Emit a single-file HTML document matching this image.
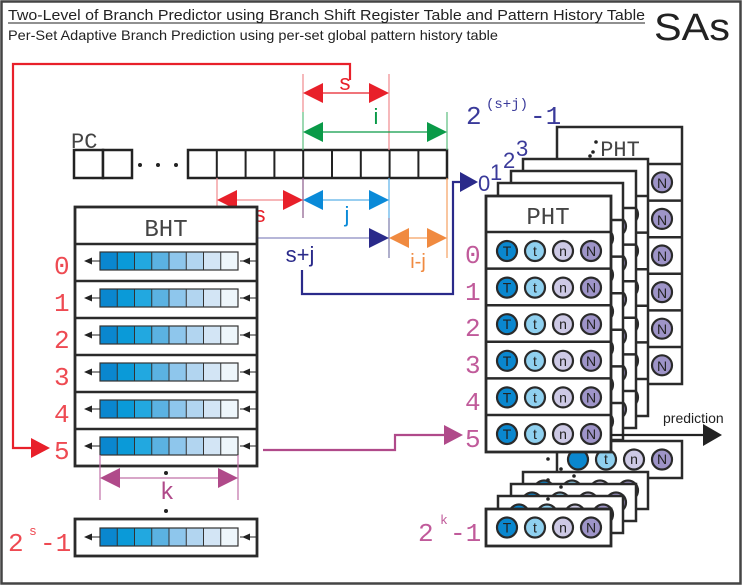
<!DOCTYPE html>
<html><head><meta charset="utf-8"><style>
html,body{margin:0;padding:0;background:#fff}
svg{display:block}
.m{font-family:"Liberation Mono",monospace}
.s{font-family:"Liberation Sans",sans-serif}
</style></head><body>
<svg width="743" height="586" viewBox="0 0 743 586" xmlns="http://www.w3.org/2000/svg">
<defs>
<g id="reg">
<rect x="100" y="0" width="17.25" height="18" fill="#0a87cf"/>
<rect x="117.25" y="0" width="17.25" height="18" fill="#0a9ad8"/>
<rect x="134.5" y="0" width="17.25" height="18" fill="#22a8e0"/>
<rect x="151.75" y="0" width="17.25" height="18" fill="#5bb2e2"/>
<rect x="169" y="0" width="17.25" height="18" fill="#8ec6ec"/>
<rect x="186.25" y="0" width="17.25" height="18" fill="#b2d5f0"/>
<rect x="203.5" y="0" width="17.25" height="18" fill="#d3e5f5"/>
<rect x="220.75" y="0" width="17.25" height="18" fill="#eef6fb"/>
<path d="M117.25 0V18M134.5 0V18M151.75 0V18M169 0V18M186.25 0V18M203.5 0V18M220.75 0V18" stroke="#333" stroke-width="1"/>
<rect x="100" y="0" width="138" height="18" fill="none" stroke="#333" stroke-width="1.2"/>
<path d="M92 9H100M240 9H256" stroke="#222" stroke-width="1"/>
<path d="M84 9L92 5.5V12.5Z M242 9L250 5.5V12.5Z" fill="#222"/>
</g>
<g id="cr" stroke="#2a2a2a" stroke-width="2.2">
<circle cx="21" cy="0" r="10" fill="#0a87cf"/>
<circle cx="49" cy="0" r="10" fill="#8fd0ef"/>
<circle cx="77" cy="0" r="10" fill="#cdc9e5"/>
<circle cx="105" cy="0" r="10" fill="#9e94c8"/>
</g>
<g id="ph" stroke="#2a2a2a" stroke-width="2.5" fill="#fff">
<rect x="0" y="0" width="125" height="257"/>
<path d="M0 37H125M0 73.6H125M0 110.2H125M0 146.8H125M0 183.4H125M0 220H125" fill="none"/>
<use href="#cr" y="55.3"/><use href="#cr" y="91.9"/><use href="#cr" y="128.5"/><use href="#cr" y="165.1"/><use href="#cr" y="201.7"/><use href="#cr" y="238.3"/>
</g>
<g id="pr" stroke="#2a2a2a" stroke-width="2.5" fill="#fff">
<rect x="0" y="0" width="125" height="37"/>
<use href="#cr" y="18.5"/>
</g>
</defs>
<rect x="1.5" y="1.5" width="739" height="582" fill="#fff" stroke="#444" stroke-width="2.5"/>
<text x="8" y="20" class="s" font-size="15" textLength="637" lengthAdjust="spacingAndGlyphs" fill="#222">Two-Level of Branch Predictor using Branch Shift Register Table and Pattern History Table</text>
<line x1="8" y1="23" x2="645" y2="23" stroke="#222" stroke-width="1"/>
<text x="8" y="40" class="s" font-size="14" textLength="490" lengthAdjust="spacingAndGlyphs" fill="#222">Per-Set Adaptive Branch Prediction using per-set global pattern history table</text>
<text x="654" y="40" class="s" font-size="38" textLength="76" lengthAdjust="spacingAndGlyphs" fill="#222">SAs</text>

<path d="M350 80V64H13V448H40" fill="none" stroke="#e8202a" stroke-width="2.2"/>
<path d="M50 448L31 438V458Z" fill="#e8202a"/>

<text x="71" y="148" class="m" font-size="22" fill="#444">PC</text>
<g fill="#fff" stroke="#222" stroke-width="2.5">
<rect x="74" y="150" width="29" height="28"/><rect x="103" y="150" width="29" height="28"/>
<rect x="188" y="150" width="259" height="28"/>
</g>
<path d="M216.8 150V178M245.6 150V178M274.4 150V178M303.2 150V178M332 150V178M360.8 150V178M389.6 150V178M418.4 150V178" stroke="#222" stroke-width="2"/>
<circle cx="140" cy="165" r="2" fill="#222"/><circle cx="158" cy="165" r="2" fill="#222"/><circle cx="176" cy="165" r="2" fill="#222"/>

<path d="M303 74V112M389 74V150" stroke="#f08a8e" stroke-width="1.2"/>
<path d="M303 112V150M447 112V150" stroke="#5cbf7e" stroke-width="1.2"/>
<line x1="310" y1="93" x2="382" y2="93" stroke="#e8202a" stroke-width="1.2"/>
<path d="M303 93L323 83V103Z M389 93L369 83V103Z" fill="#e8202a"/>
<text x="345" y="90" class="s" font-size="22" text-anchor="middle" fill="#e8202a">s</text>
<line x1="310" y1="132" x2="440" y2="132" stroke="#0a9a48" stroke-width="1.2"/>
<path d="M303 132L323 122V142Z M447 132L427 122V142Z" fill="#0a9a48"/>
<text x="376" y="124" class="s" font-size="22" text-anchor="middle" fill="#0a9a48">i</text>

<path d="M217 178V220" stroke="#f08a8e" stroke-width="1.2"/>
<path d="M217 220V258" stroke="#5a5aaa" stroke-width="1.2"/>
<path d="M303 178V218" stroke="#8a5a8a" stroke-width="1.2"/>
<path d="M389 178V218" stroke="#5ab0e8" stroke-width="1.2"/>
<path d="M389 218V258" stroke="#7a7aaa" stroke-width="1.2"/>
<path d="M447 178V258" stroke="#f5a060" stroke-width="1.2"/>
<line x1="224" y1="200" x2="296" y2="200" stroke="#f08a8e" stroke-width="1.2"/>
<path d="M217 200L237 190V210Z M303 200L283 190V210Z" fill="#e8202a"/>
<text x="260" y="222" class="s" font-size="22" text-anchor="middle" fill="#e8202a">s</text>
<line x1="310" y1="200" x2="382" y2="200" stroke="#5ab0e8" stroke-width="1.2"/>
<path d="M303 200L323 190V210Z M389 200L369 190V210Z" fill="#0a8ad8"/>
<text x="347" y="222" class="s" font-size="22" text-anchor="middle" fill="#0a8ad8">j</text>
<line x1="224" y1="238" x2="382" y2="238" stroke="#8a8ac0" stroke-width="1.2"/>
<path d="M217 238L237 228V248Z M389 238L369 228V248Z" fill="#2a2a8a"/>
<text x="300" y="262" class="s" font-size="22" text-anchor="middle" fill="#2a2a8a">s+j</text>
<line x1="396" y1="238" x2="440" y2="238" stroke="#f5a060" stroke-width="1.2"/>
<path d="M389 238L409 228V248Z M447 238L427 228V248Z" fill="#f08a40"/>
<text x="418" y="268" class="s" font-size="20" text-anchor="middle" fill="#f08a40">i-j</text>

<path d="M302 270V294H453V182H470" fill="none" stroke="#2a2a8a" stroke-width="2.2"/>
<path d="M478 182L460 172V192Z" fill="#2a2a8a"/>

<g fill="#fff" stroke="#2a2a2a" stroke-width="2.8">
<rect x="75" y="207" width="182" height="259"/>
</g>
<path d="M75 244H257M75 281H257M75 318H257M75 355H257M75 392H257M75 429H257" stroke="#2a2a2a" stroke-width="2.5"/>
<text x="166" y="236" class="m" font-size="24" text-anchor="middle" fill="#444">BHT</text>
<use href="#reg" y="252"/><use href="#reg" y="289"/><use href="#reg" y="326"/><use href="#reg" y="363"/><use href="#reg" y="400"/><use href="#reg" y="437"/>
<g class="m" font-size="26" fill="#ee4a52">
<text x="54" y="274">0</text><text x="54" y="311">1</text><text x="54" y="348">2</text><text x="54" y="385">3</text><text x="54" y="422">4</text><text x="54" y="459">5</text>
<text x="8" y="551">2</text><text x="29" y="535" font-size="13">s</text><text x="40" y="551">-1</text>
</g>
<rect x="75" y="519" width="182" height="37" fill="#fff" stroke="#2a2a2a" stroke-width="2.8"/>
<use href="#reg" y="528"/>
<circle cx="166" cy="473" r="2" fill="#222"/><circle cx="166" cy="511" r="2" fill="#222"/>
<path d="M100 455V500M238 455V500" stroke="#c070a8" stroke-width="1.2"/>
<line x1="107" y1="478" x2="231" y2="478" stroke="#c070a8" stroke-width="1.2"/>
<path d="M100 478L120 468V488Z M238 478L218 468V488Z" fill="#b04a8a"/>
<text x="167" y="499" class="s" font-size="24" text-anchor="middle" fill="#b04a8a">k</text>

<path d="M263 450H395V435H452" fill="none" stroke="#b04a8a" stroke-width="2.2"/>
<path d="M463 435L444 425V445Z" fill="#b04a8a"/>

<text x="466" y="124" class="m" font-size="26" fill="#3a3a9a">2</text>
<text x="486" y="108" class="m" font-size="14" fill="#3a3a9a">(s+j)</text>
<text x="530" y="124" class="m" font-size="26" fill="#3a3a9a">-1</text>
<g class="s" font-size="22" fill="#3a3a9a">
<text x="478" y="191">0</text><text x="490" y="180">1</text><text x="503" y="168">2</text><text x="516" y="156">3</text>
</g>

<use href="#ph" x="557" y="127"/>
<text x="620" y="156" class="m" font-size="22" text-anchor="middle" fill="#444">PHT</text>
<circle cx="596" cy="142" r="1.8" fill="#222"/><circle cx="593" cy="152" r="1.8" fill="#222"/><circle cx="590" cy="156" r="1.8" fill="#222"/>
<g class="s" font-size="14" text-anchor="middle" fill="#222">
<text x="662" y="188">N</text><text x="662" y="225">N</text><text x="662" y="261">N</text><text x="662" y="298">N</text><text x="662" y="334">N</text><text x="662" y="371">N</text>
</g>
<use href="#ph" x="523" y="159"/>
<use href="#ph" x="511" y="171"/>
<use href="#ph" x="498" y="183"/>

<use href="#pr" x="557" y="441"/>
<g class="s" font-size="14" text-anchor="middle" fill="#222">
<text x="634" y="464">n</text><text x="662" y="464">N</text><text x="606" y="464">t</text>
</g>
<use href="#pr" x="523" y="472"/>
<use href="#pr" x="511" y="484"/>
<use href="#pr" x="498" y="496"/>
<circle cx="548" cy="459" r="1.8" fill="#222"/><circle cx="561" cy="469" r="1.8" fill="#222"/><circle cx="574" cy="476" r="1.8" fill="#222"/><circle cx="548" cy="480" r="1.8" fill="#222"/><circle cx="561" cy="487" r="1.8" fill="#222"/><circle cx="548" cy="499" r="1.8" fill="#222"/>

<g fill="#fff" stroke="#2a2a2a" stroke-width="2.8">
<rect x="486" y="196" width="125" height="256"/>
</g>
<path d="M486 232H611M486 268.6H611M486 305.2H611M486 341.8H611M486 378.4H611M486 415H611" stroke="#2a2a2a" stroke-width="2.5"/>
<text x="548" y="224" class="m" font-size="24" text-anchor="middle" fill="#444">PHT</text>
<use href="#cr" x="486" y="251"/><use href="#cr" x="486" y="287.6"/><use href="#cr" x="486" y="324.2"/><use href="#cr" x="486" y="360.8"/><use href="#cr" x="486" y="397.4"/><use href="#cr" x="486" y="434"/>
<g class="s" font-size="14" text-anchor="middle" fill="#222">
<text x="507" y="256">T</text><text x="535" y="256">t</text><text x="563" y="256">n</text><text x="591" y="256">N</text>
<text x="507" y="292.6">T</text><text x="535" y="292.6">t</text><text x="563" y="292.6">n</text><text x="591" y="292.6">N</text>
<text x="507" y="329.2">T</text><text x="535" y="329.2">t</text><text x="563" y="329.2">n</text><text x="591" y="329.2">N</text>
<text x="507" y="365.8">T</text><text x="535" y="365.8">t</text><text x="563" y="365.8">n</text><text x="591" y="365.8">N</text>
<text x="507" y="402.4">T</text><text x="535" y="402.4">t</text><text x="563" y="402.4">n</text><text x="591" y="402.4">N</text>
<text x="507" y="439">T</text><text x="535" y="439">t</text><text x="563" y="439">n</text><text x="591" y="439">N</text>
</g>
<rect x="486" y="509" width="125" height="37" fill="#fff" stroke="#2a2a2a" stroke-width="2.8"/>
<use href="#cr" x="486" y="527.5"/>
<g class="s" font-size="14" text-anchor="middle" fill="#222">
<text x="507" y="532.5">T</text><text x="535" y="532.5">t</text><text x="563" y="532.5">n</text><text x="591" y="532.5">N</text>
</g>
<g class="m" font-size="26" fill="#c05a9a">
<text x="465" y="263">0</text><text x="465" y="300">1</text><text x="465" y="336">2</text><text x="465" y="373">3</text><text x="465" y="410">4</text><text x="465" y="447">5</text>
<text x="418" y="541">2</text><text x="440" y="524" font-size="13">k</text><text x="450" y="541">-1</text>
</g>

<line x1="611" y1="435" x2="706" y2="435" stroke="#222" stroke-width="2.2"/>
<path d="M722 435L703 424V446Z" fill="#222"/>
<text x="663" y="423" class="s" font-size="14" fill="#222">prediction</text>
</svg>
</body></html>
